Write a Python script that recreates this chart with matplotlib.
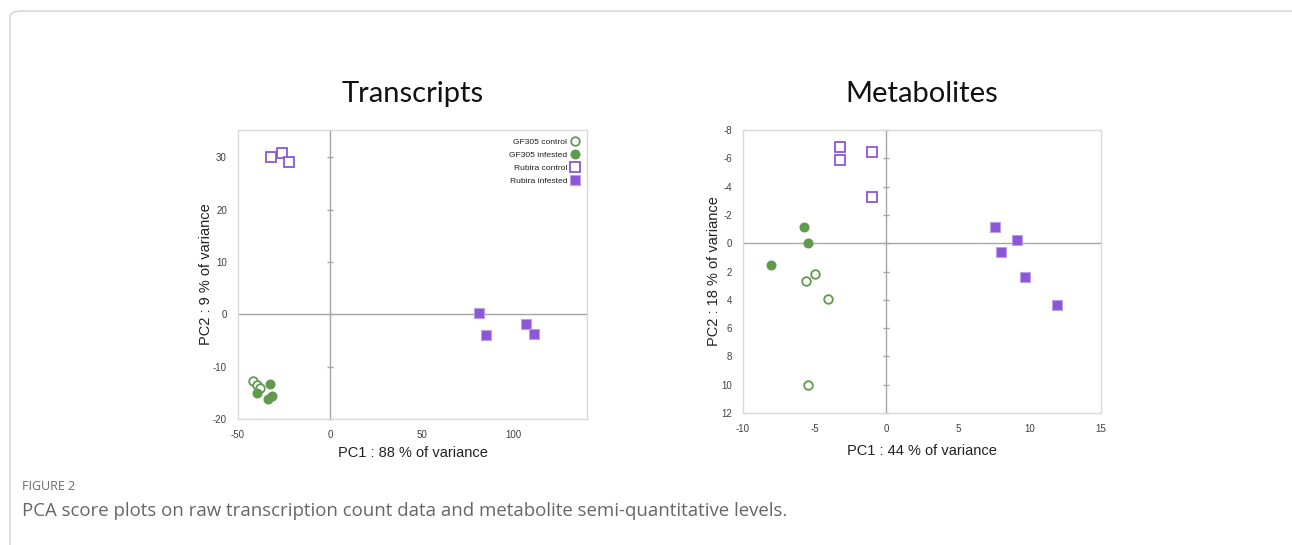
import matplotlib
matplotlib.use("Agg")
import matplotlib.pyplot as plt
from matplotlib.patches import FancyBboxPatch

plt.rcParams["axes.unicode_minus"] = False

# ---------------- data ----------------
# Transcripts PCA scores (PC1, PC2)
tr_gf_ctrl_x = [-41.7, -39.8, -38.0]
tr_gf_ctrl_y = [-12.8, -13.6, -14.0]
tr_gf_inf_x = [-32.6, -39.8, -33.5, -31.7]
tr_gf_inf_y = [-13.3, -15.0, -16.1, -15.7]
tr_ru_ctrl_x = [-32.2, -25.9, -22.1]
tr_ru_ctrl_y = [30.0, 30.8, 29.1]
tr_ru_inf_x = [81.0, 85.2, 106.9, 111.4]
tr_ru_inf_y = [0.3, -4.0, -1.9, -3.8]

# Metabolites PCA scores (PC1, PC2)
me_gf_ctrl_x = [-4.96, -5.63, -4.07, -5.49]
me_gf_ctrl_y = [2.15, 2.70, 3.97, 10.0]
me_gf_inf_x = [-5.73, -5.49, -8.05]
me_gf_inf_y = [-1.16, 0.0, 1.54]
me_ru_ctrl_x = [-3.26, -3.26, -1.0, -1.0]
me_ru_ctrl_y = [-6.83, -5.89, -6.43, -3.28]
me_ru_inf_x = [7.61, 9.13, 8.01, 9.71, 11.92]
me_ru_inf_y = [-1.11, -0.24, 0.59, 2.36, 4.4]

legend_labels = ["GF305 control", "GF305 infested", "Rubira control", "Rubira infested"]
titles = ["Transcripts", "Metabolites"]
xlabels = ["PC1 : 88 % of variance", "PC1 : 44 % of variance"]
ylabels = ["PC2 : 9 % of variance", "PC2 : 18 % of variance"]
tr_xticks = [-50, 0, 50, 100]
tr_yticks = [-20, -10, 0, 10, 20, 30]
me_xticks = [-10, -5, 0, 5, 10, 15]
me_yticks = [-8, -6, -4, -2, 0, 2, 4, 6, 8, 10, 12]

GREEN = "#5f9a4e"
PURPLE = "#8b57d6"
FRAME = "#d9d9d9"
ZLINE = "#a6a6a6"

fig = plt.figure(figsize=(12.92, 5.45), dpi=100)

# page card border
card = FancyBboxPatch((10 / 1292, -0.2), 1.3, 1 - 11 / 545 + 0.2,
                      boxstyle="round,pad=0,rounding_size=0.01",
                      transform=fig.transFigure, fill=False,
                      edgecolor="#d0d0d0", linewidth=1.0)
fig.patches.append(card)

ax1 = fig.add_axes([238 / 1292, 1 - 419 / 545, (587 - 238) / 1292, (419 - 130) / 545])
ax2 = fig.add_axes([743 / 1292, 1 - 413 / 545, (1101 - 743) / 1292, (413 - 130) / 545])

ms_c = 6.2
ms_s = 7.0


def style(ax, xticks, yticks, xlim, ylim):
    ax.set_xlim(*xlim)
    ax.set_ylim(*ylim)
    ax.set_xticks(xticks)
    ax.set_yticks(yticks)
    for s in ax.spines.values():
        s.set_color(FRAME)
        s.set_linewidth(1.0)
    ax.tick_params(length=0, labelsize=7, labelcolor="#404040", pad=8)
    for lab in ax.get_xticklabels() + ax.get_yticklabels():
        lab.set_fontfamily("Liberation Sans")
    ax.axhline(0, color=ZLINE, lw=1.0, zorder=1)
    ax.axvline(0, color=ZLINE, lw=1.0, zorder=1)
    # tick marks on the vertical zero axis
    ax.plot([0] * len(yticks), yticks, linestyle="none", marker="_",
            markersize=5, color=ZLINE, markeredgewidth=1.0, zorder=1, clip_on=False)


style(ax1, tr_xticks, tr_yticks, (-50, 140), (-20, 35.2))
style(ax2, me_xticks, me_yticks, (-10, 15), (12, -8))

# Transcripts
ax1.plot(tr_gf_ctrl_x, tr_gf_ctrl_y, "o", mfc="white", mec=GREEN, mew=1.3, ms=ms_c, zorder=3,
         label=legend_labels[0])
ax1.plot(tr_gf_inf_x, tr_gf_inf_y, "o", mfc=GREEN, mec=GREEN, ms=ms_c, zorder=3,
         label=legend_labels[1])
ax1.plot(tr_ru_ctrl_x, tr_ru_ctrl_y, "s", mfc="white", mec=PURPLE, mew=1.3, ms=ms_s, zorder=3,
         label=legend_labels[2])
ax1.plot(tr_ru_inf_x, tr_ru_inf_y, "s", mfc=PURPLE, mec="#b9a0ea", mew=0.8, ms=ms_s, zorder=3,
         label=legend_labels[3])

leg = ax1.legend(loc="upper right", frameon=False, markerfirst=False,
                 prop={"family": "Liberation Sans", "size": 6.1},
                 handlelength=0.8, handletextpad=0.5, labelspacing=0.6,
                 borderaxespad=0.0, bbox_to_anchor=(0.985, 0.985))
for t in leg.get_texts():
    t.set_color("#202020")

# Metabolites
ax2.plot(me_gf_ctrl_x, me_gf_ctrl_y, "o", mfc="white", mec=GREEN, mew=1.3, ms=ms_c, zorder=3)
ax2.plot(me_gf_inf_x, me_gf_inf_y, "o", mfc=GREEN, mec=GREEN, ms=ms_c, zorder=3)
ax2.plot(me_ru_ctrl_x, me_ru_ctrl_y, "s", mfc="white", mec=PURPLE, mew=1.3, ms=ms_s, zorder=3)
ax2.plot(me_ru_inf_x, me_ru_inf_y, "s", mfc=PURPLE, mec="#b9a0ea", mew=0.8, ms=ms_s, zorder=3)

for ax, title, xl, yl in [(ax1, titles[0], xlabels[0], ylabels[0]),
                          (ax2, titles[1], xlabels[1], ylabels[1])]:
    ax.set_title(title, fontsize=21, family="Lato", color="#111111", pad=20)
    ax.set_xlabel(xl, fontsize=10.5, family="Liberation Sans", color="#222222")
    ax.set_ylabel(yl, fontsize=10.5, family="Liberation Sans", color="#222222", labelpad=0)

ax1.xaxis.labelpad = 4
ax2.xaxis.labelpad = 7

fig.text(22 / 1292, 1 - 487 / 545, "FIGURE 2", fontsize=9.0, family="Open Sans",
         color="#6a6a6a", va="center", ha="left")
fig.text(22 / 1292, 1 - 511 / 545,
         "PCA score plots on raw transcription count data and metabolite semi-quantitative levels.",
         fontsize=13.45, family="Open Sans", color="#666666", va="center", ha="left")

fig.savefig("out.png", dpi=100)
